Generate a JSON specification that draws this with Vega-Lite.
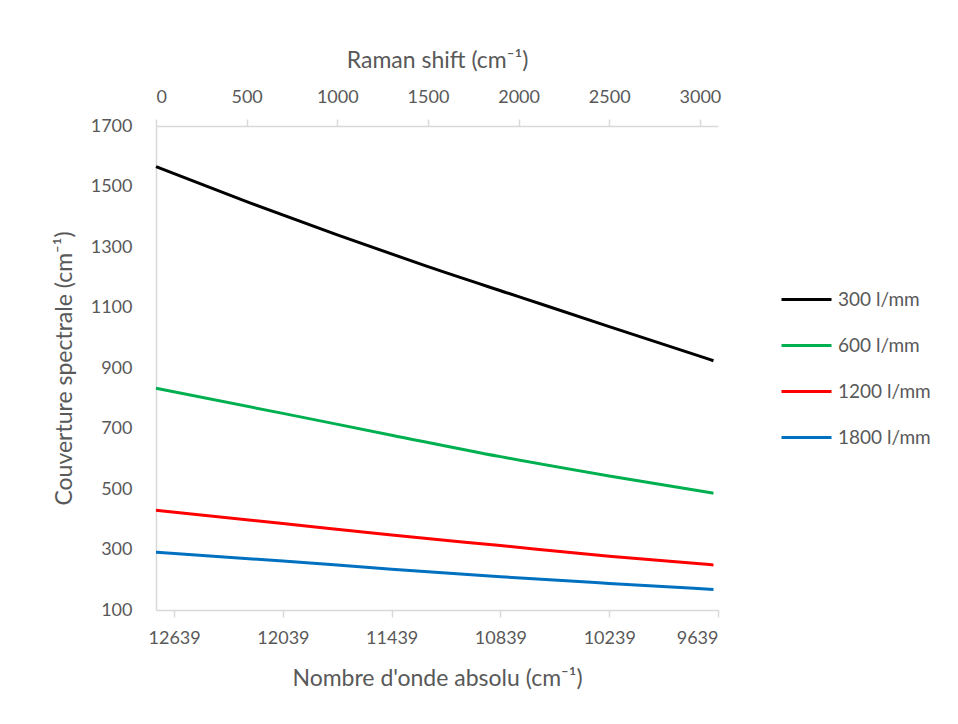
{
  "$schema": "https://vega.github.io/schema/vega-lite/v6.json",
  "width": 562,
  "height": 484,
  "autosize": {"type": "none"},
  "padding": {"left": 156, "top": 126, "right": 240, "bottom": 114},
  "background": "white",
  "config": {
    "view": {"stroke": null},
    "font": "Lato",
    "axis": {
      "labelFont": "Lato",
      "titleFont": "Lato",
      "labelFontSize": 18,
      "titleFontSize": 23,
      "labelColor": "#595959",
      "titleColor": "#595959",
      "titleFontWeight": "normal",
      "domainColor": "#D9D9D9",
      "tickColor": "#D9D9D9",
      "domainWidth": 1.5,
      "tickWidth": 1.5,
      "grid": false
    },
    "legend": {
      "labelFont": "Lato",
      "labelFontSize": 19,
      "labelColor": "#595959"
    }
  },
  "layer": [
    {
      "data": {
        "values": [
          {"series": "300 l/mm", "abs": 12739, "value": 1566},
          {"series": "300 l/mm", "abs": 12239, "value": 1450},
          {"series": "300 l/mm", "abs": 11739, "value": 1340},
          {"series": "300 l/mm", "abs": 11239, "value": 1235},
          {"series": "300 l/mm", "abs": 10739, "value": 1136},
          {"series": "300 l/mm", "abs": 10239, "value": 1037},
          {"series": "300 l/mm", "abs": 9664, "value": 924},
          {"series": "600 l/mm", "abs": 12739, "value": 833},
          {"series": "600 l/mm", "abs": 12039, "value": 750},
          {"series": "600 l/mm", "abs": 11439, "value": 678},
          {"series": "600 l/mm", "abs": 10839, "value": 607},
          {"series": "600 l/mm", "abs": 10239, "value": 543},
          {"series": "600 l/mm", "abs": 9664, "value": 486},
          {"series": "1200 l/mm", "abs": 12739, "value": 430},
          {"series": "1200 l/mm", "abs": 12039, "value": 386},
          {"series": "1200 l/mm", "abs": 11439, "value": 348},
          {"series": "1200 l/mm", "abs": 10839, "value": 313},
          {"series": "1200 l/mm", "abs": 10239, "value": 278},
          {"series": "1200 l/mm", "abs": 9664, "value": 249},
          {"series": "1800 l/mm", "abs": 12739, "value": 291},
          {"series": "1800 l/mm", "abs": 12039, "value": 262},
          {"series": "1800 l/mm", "abs": 11439, "value": 235},
          {"series": "1800 l/mm", "abs": 10839, "value": 210},
          {"series": "1800 l/mm", "abs": 10239, "value": 188},
          {"series": "1800 l/mm", "abs": 9664, "value": 168}
        ]
      },
      "mark": {"type": "line", "strokeWidth": 3, "interpolate": "monotone"},
      "encoding": {
        "x": {
          "field": "abs",
          "type": "quantitative",
          "scale": {"domain": [12739, 9639], "nice": false, "zero": false},
          "axis": {
            "orient": "bottom",
            "values": [12639, 12039, 11439, 10839, 10239, 9639],
            "format": "d",
            "tickSize": 7,
            "labelPadding": 12,
            "title": "Nombre d'onde absolu (cm⁻¹)",
            "titlePadding": 20
          }
        },
        "y": {
          "field": "value",
          "type": "quantitative",
          "scale": {"domain": [100, 1700], "nice": false, "zero": false},
          "axis": {
            "values": [100, 300, 500, 700, 900, 1100, 1300, 1500, 1700],
            "format": "d",
            "ticks": false,
            "labelPadding": 24,
            "title": "Couverture spectrale (cm⁻¹)",
            "titlePadding": 14
          }
        },
        "color": {
          "field": "series",
          "type": "nominal",
          "sort": ["300 l/mm", "600 l/mm", "1200 l/mm", "1800 l/mm"],
          "scale": {
            "domain": ["300 l/mm", "600 l/mm", "1200 l/mm", "1800 l/mm"],
            "range": ["#000000", "#00B050", "#FF0000", "#0070C0"]
          },
          "legend": {
            "title": null,
            "orient": "none",
            "legendX": 624,
            "legendY": 147,
            "symbolType": "stroke",
            "symbolStrokeWidth": 3,
            "symbolSize": 2500,
            "labelOffset": 5,
            "rowPadding": 9
          }
        }
      }
    },
    {
      "data": {"values": [{"raman": 0}, {"raman": 3100}]},
      "mark": {"type": "point", "opacity": 0},
      "encoding": {
        "x": {
          "field": "raman",
          "type": "quantitative",
          "scale": {"domain": [0, 3100], "nice": false, "zero": false},
          "axis": {
            "orient": "top",
            "values": [0, 500, 1000, 1500, 2000, 2500, 3000],
            "format": "d",
            "tickSize": 7,
            "labelPadding": 13,
            "title": "Raman shift (cm⁻¹)",
            "titlePadding": 16
          }
        }
      }
    }
  ],
  "resolve": {"scale": {"x": "independent"}}
}
